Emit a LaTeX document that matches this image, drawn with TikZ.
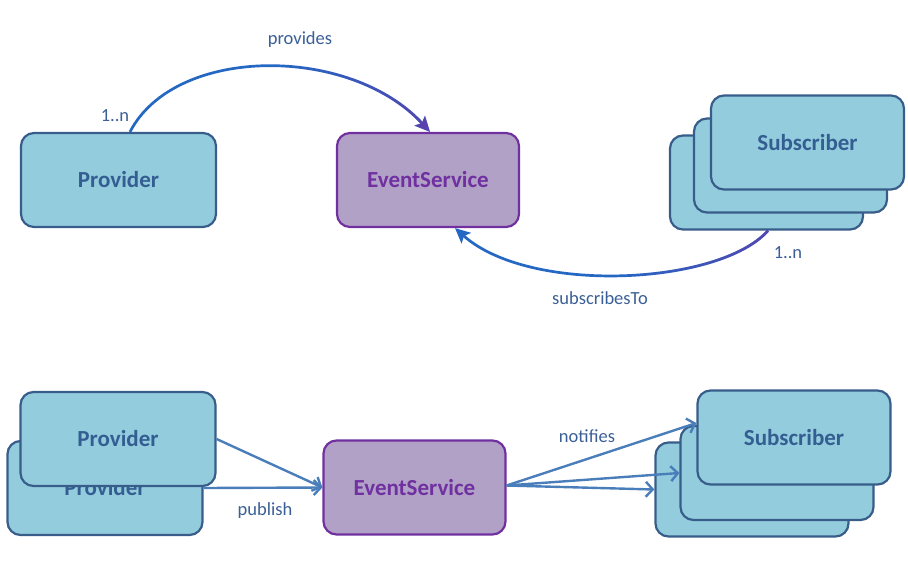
\documentclass[tikz,border=0pt]{standalone}
\usepackage{fontspec}
\setmainfont{Carlito}
\usetikzlibrary{arrows.meta,fadings}
\definecolor{boxfill}{HTML}{93CDDD}
\definecolor{boxline}{HTML}{385D8A}
\definecolor{boxtext}{HTML}{345E92}
\definecolor{esfill}{HTML}{B2A1C7}
\definecolor{esline}{HTML}{7030A0}
\definecolor{lbltext}{HTML}{3A5F96}
\definecolor{arrblue}{HTML}{4A7EBB}
\definecolor{curveblue}{HTML}{2468C4}
\definecolor{curvepurple}{HTML}{6B35A6}
\pgfdeclarehorizontalshading{myfadeshade}{100bp}{color(0bp)=(black); color(50bp)=(black); color(88bp)=(white); color(100bp)=(white)}
\pgfdeclarefading{fadetoright}{\pgfuseshading{myfadeshade}}
\tikzset{
  box/.style={draw=boxline, fill=boxfill, line width=2.2pt, rounded corners=13pt,
    minimum width=193pt, minimum height=94pt, inner sep=0pt, text=boxtext,
    font=\bfseries\fontsize{23}{26}\selectfont},
  esbox/.style={box, draw=esline, fill=esfill, text=esline, minimum width=182pt},
  lbl/.style={text=lbltext, font=\fontsize{18.5}{21}\selectfont, inner sep=0pt},
  curve/.style={line width=2.7pt, -{Stealth[length=15pt,width=14pt,inset=3pt]}},
  flow/.style={draw=arrblue, line width=2.4pt, -{Straight Barb[length=7pt,width=15pt,line width=2.4pt]}}
}
\begin{document}
\begin{tikzpicture}[x=1pt,y=-1pt]
\useasboundingbox (0,0) rectangle (908,560);
% top row
\node[box, minimum width=195pt] (p1) at (118.5,180) {Provider};
\node[esbox] (es1) at (428,180) {EventService};
\node[box] (s1c) at (766.5,182.5) {};
\node[box] (s1b) at (790.5,165.5) {};
\node[box] (s1a) at (807.5,142.5) {Subscriber};
% provides curve
\draw[curve, draw=curveblue] ([xshift=11.5pt]p1.north) .. controls (175,45) and (350,45) .. ([xshift=2pt]es1.north);
\draw[curve, draw=curvepurple, path fading=fadetoright] ([xshift=11.5pt]p1.north) .. controls (175,45) and (350,45) .. ([xshift=2pt]es1.north);
% subscribesTo curve
\draw[curve, draw=curveblue] ([xshift=1.5pt]s1c.south) .. controls (720,285) and (530,295) .. ([xshift=27pt]es1.south);
\draw[curve, draw=curvepurple, path fading=fadetoright] ([xshift=1.5pt]s1c.south) .. controls (720,285) and (530,295) .. ([xshift=27pt]es1.south);
\node[lbl] (lprov) at (300,40) {provides};
\node[lbl] (lmult1) at (115,116) {1..n};
\node[lbl] (lsub) at (600,298) {subscribesTo};
\node[lbl] (lmult2) at (788,253) {1..n};
% bottom row
\node[box, minimum width=195pt] (p2b) at (105,488) {Provider};
\node[box, minimum width=195pt] (p2a) at (118,439) {Provider};
\node[esbox] (es2) at (414.5,487.5) {EventService};
\node[box] (s2c) at (752,489.5) {};
\node[box] (s2b) at (777,473) {};
\node[box] (s2a) at (794,437.5) {Subscriber};
\draw[flow] (p2a.east) -- (es2.west);
\draw[flow] (p2b.east) -- (es2.west);
\draw[flow] ([yshift=2pt]es2.east) -- ([yshift=14.5pt]s2a.west);
\draw[flow] ([yshift=2pt]es2.east) -- (s2b.west);
\draw[flow] ([yshift=2pt]es2.east) -- (s2c.west);
\node[lbl] (lpub) at (265,511) {publish};
\node[lbl] (lnot) at (587,436) {notifies};
\end{tikzpicture}
\end{document}
